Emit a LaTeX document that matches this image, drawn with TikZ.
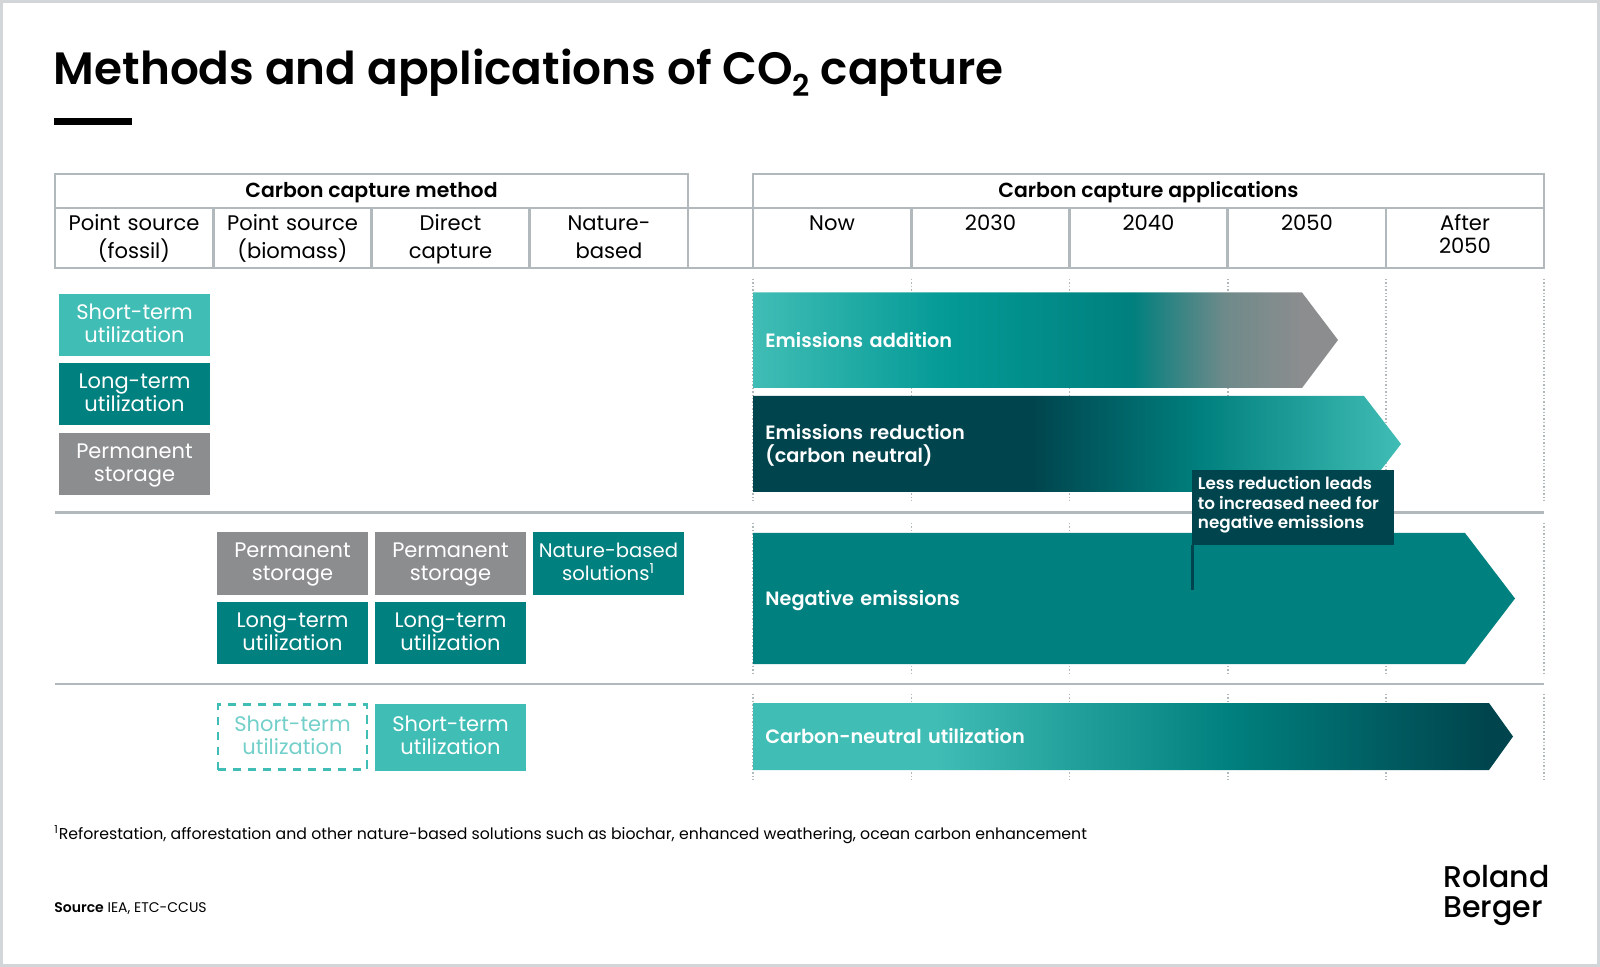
\documentclass[tikz,border=0pt]{standalone}
\usepackage{fontspec}
\setmainfont{Poppins}
\newfontfamily\semifont{Poppins SemiBold}
\newfontfamily\mediumfont{Poppins Medium}
\definecolor{lightteal}{HTML}{40BDB5}
\definecolor{midteal}{HTML}{00807E}
\definecolor{brightteal}{HTML}{049A96}
\definecolor{darkteal}{HTML}{00444D}
\definecolor{stonegray}{HTML}{8C8D8F}
\definecolor{fadegray}{HTML}{6F8A8A}
\definecolor{rulegray}{HTML}{B2B9BD}
\definecolor{framegray}{HTML}{D3D6D9}
\definecolor{paleteal}{HTML}{73CFC9}
\pgfdeclarehorizontalshading{additionfade}{100bp}{color(0bp)=(lightteal); color(25bp)=(lightteal); color(41.5bp)=(brightteal); color(57.4bp)=(midteal); color(65.3bp)=(fadegray); color(72bp)=(stonegray); color(100bp)=(stonegray)}
\pgfdeclarehorizontalshading{reductionfade}{100bp}{color(0bp)=(darkteal); color(46.4bp)=(darkteal); color(59.5bp)=(midteal); color(75bp)=(lightteal); color(100bp)=(lightteal)}
\pgfdeclarehorizontalshading{utilizationfade}{100bp}{color(0bp)=(lightteal); color(36.9bp)=(lightteal); color(56.4bp)=(midteal); color(73.5bp)=(darkteal); color(100bp)=(darkteal)}
\tikzset{
	cell/.style={draw=rulegray, line width=1.2pt, inner sep=0pt, align=center, execute at end node=\strut, font=\fontsize{10.55}{13.8}\selectfont},
	headcell/.style={cell, minimum height=16.8pt, execute at begin node=\rule{0pt}{0.85\baselineskip}, font=\semifont\fontsize{10.2}{12}\selectfont},
	colcell/.style={cell, text width=79pt, minimum height=30.2pt, execute at begin node=\rule{0pt}{0.75\baselineskip}},
	method/.style={inner sep=0pt, text width=75.5pt, align=center, text=white, execute at begin node=\rule{0pt}{0.8\baselineskip}, execute at end node=\strut, font=\fontsize{10.5}{11.5}\selectfont},
	arrowlabel/.style={inner sep=0pt, text width=150pt, anchor=west, align=left, text=white, execute at begin node=\rule{0pt}{0.9\baselineskip}, execute at end node=\strut, font=\semifont\fontsize{9.65}{11.3}\selectfont},
	separator/.style={rulegray, line width=1.2pt},
	gridline/.style={rulegray, line width=0.7pt, densely dotted}
}
\begin{document}
\begin{tikzpicture}[x=0.5pt, y=-0.5pt]
	\useasboundingbox (0,0) rectangle (1600,967);
	\draw[framegray, line width=1.5pt] (1.5,1.5) rectangle (1598,965.5);

	% Title
	\node[inner sep=0pt, anchor=base west, font=\semifont\fontsize{22.65}{28}\selectfont] (title) at (53.5,85) {Methods and applications of CO\raisebox{-6pt}{\fontsize{15}{15}\selectfont 2} capture};
	\node[fill=black, inner sep=0pt, minimum width=39pt, minimum height=3.1pt] (titlebar) at (93,121.5) {};

	% Table
	\node[headcell, minimum width=316.5pt] (methodhead) at (371.5,191) {Carbon capture method};
	\node[headcell, minimum width=395.5pt] (applicationhead) at (1148.5,191) {Carbon capture applications};
	\node[colcell] (fossil) at (134,238) {Point source\\(fossil)};
	\node[colcell] (biomass) at (292.5,238) {Point source\\(biomass)};
	\node[colcell] (direct) at (450.5,238) {Direct\\capture};
	\node[colcell] (nature) at (609,238) {Nature-\\based};
	\node[cell, minimum width=32.5pt, minimum height=30.2pt] (gapcell) at (720.5,238) {};
	\node[colcell] (now) at (832,238) {Now\\\mbox{}};
	\node[colcell] (y2030) at (990.5,238) {2030\\\mbox{}};
	\node[colcell] (y2040) at (1148.5,238) {2040\\\mbox{}};
	\node[colcell] (y2050) at (1307,238) {2050\\\mbox{}};
	\node[colcell, font=\fontsize{10.55}{11.2}\selectfont] (after) at (1465,238) {After\\2050\\[-10pt]\mbox{}};

	% Time grid
	\foreach \x in {753,911.5,1069.5,1228,1386,1544} {
		\draw[gridline] (\x,279) -- (\x,503);
		\draw[gridline] (\x,523) -- (\x,673);
		\draw[gridline] (\x,694) -- (\x,782);
	}

	% Rows
	\draw[separator] (55,512.5) -- (1544,512.5);
	\draw[separator] (55,684) -- (1544,684);

	% Methods
	\node[method, fill=lightteal, minimum height=31pt] (shortfossil) at (134.5,325) {Short-term\\utilization};
	\node[method, fill=midteal, minimum height=31pt] (longfossil) at (134.5,394.5) {Long-term\\utilization};
	\node[method, fill=stonegray, minimum height=31pt] (storagefossil) at (134.5,464) {Permanent\\storage};
	\node[method, fill=stonegray, minimum height=31pt] (storagebiomass) at (292.5,563.5) {Permanent\\storage};
	\node[method, fill=stonegray, minimum height=31pt] (storagedirect) at (450.5,563.5) {Permanent\\storage};
	\node[method, fill=midteal, minimum height=31pt, font=\fontsize{9.8}{11.5}\selectfont] (naturebased) at (608.5,563.5) {Nature-based\\solutions\textsuperscript{1}};
	\node[method, fill=midteal, minimum height=31pt] (longbiomass) at (292.5,633) {Long-term\\utilization};
	\node[method, fill=midteal, minimum height=31pt] (longdirect) at (450.5,633) {Long-term\\utilization};
	\node[method, draw=lightteal, line width=1.3pt, dash pattern=on 4.2pt off 3.3pt, text=paleteal, text width=74.5pt, minimum height=32.5pt] (shortbiomass) at (292.5,737) {Short-term\\utilization};
	\node[method, fill=lightteal, minimum height=33.5pt] (shortdirect) at (450.5,737) {Short-term\\utilization};

	% Applications
	\path[shading=additionfade] (753,292.5) -- (1302,292.5) -- (1338,340) -- (1302,388) -- (753,388) -- cycle;
	\path[shading=reductionfade] (753,396) -- (1364,396) -- (1401,444) -- (1364,492) -- (753,492) -- cycle;
	\path[fill=midteal] (753,533) -- (1465,533) -- (1515,598.5) -- (1465,664) -- (753,664) -- cycle;
	\path[shading=utilizationfade] (753,703) -- (1489,703) -- (1513,736.5) -- (1489,770) -- (753,770) -- cycle;
	\node[arrowlabel] (addition) at (765,340.5) {Emissions addition};
	\node[arrowlabel] (reduction) at (765,444.5) {Emissions reduction\\(carbon neutral)};
	\node[arrowlabel] (negative) at (765,599) {Negative emissions};
	\node[arrowlabel] (neutral) at (765,737) {Carbon-neutral utilization};

	% Callout
	\node[fill=darkteal, inner sep=0pt, minimum width=101pt, minimum height=37.5pt] (callout) at (1293,507.5) {};
	\draw[darkteal, line width=1.5pt] (1192.7,545) -- (1192.7,590);
	\node[inner sep=0pt, align=left, text=white, anchor=west, font=\semifont\fontsize{8.4}{9.75}\selectfont] (calloutlabel) at (1197.5,505) {Less reduction leads\\to increased need for\\negative emissions};

	% Footer
	\node[inner sep=0pt, anchor=base west, font=\fontsize{7.86}{10}\selectfont] (footnote) at (54,839) {\textsuperscript{1}Reforestation, afforestation and other nature-based solutions such as biochar, enhanced weathering, ocean carbon enhancement};
	\node[inner sep=0pt, anchor=base west, font=\fontsize{7}{9}\selectfont] (source) at (54,912) {{\semifont Source} IEA, ETC-CCUS};
	\node[inner sep=0pt, anchor=base west, align=left, font=\mediumfont\fontsize{15}{15}\selectfont] (logo) at (1443,917) {Roland\\Berger};
\end{tikzpicture}
\end{document}
